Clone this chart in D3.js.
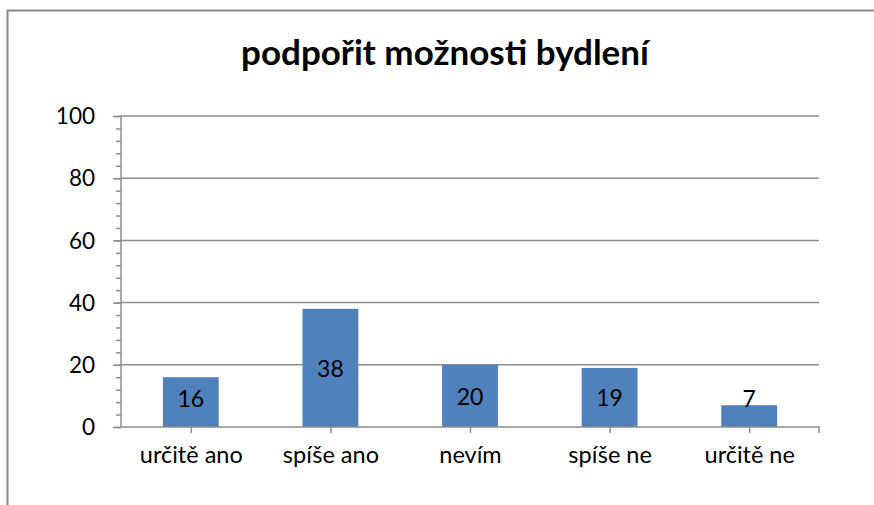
<!DOCTYPE html>
<html>
<head>
<meta charset="utf-8">
<script src="https://cdn.jsdelivr.net/npm/d3@7"></script>
<style>
  html, body { margin: 0; background: #fff; overflow: hidden; }
  svg { display: block; }
  text { font-family: Lato, "Open Sans", sans-serif; fill: #000; }
</style>
</head>
<body>
<div id="chart"></div>
<script>
// data
var categories = ["určitě ano", "spíše ano", "nevím", "spíše ne", "určitě ne"];
var values = [16, 38, 20, 19, 7];
var yTicks = [0, 20, 40, 60, 80, 100];
var chartTitle = "podpořit možnosti bydlení";

var svgWidth = 874;
var svgHeight = 505;

var margin = { top: 116, right: 55, bottom: 78, left: 121 };
var width = 819 - margin.left;
var height = 427 - margin.top;

var svg = d3.select("#chart")
    .append("svg")
    .attr("width", svgWidth)
    .attr("height", svgHeight);

// outer frame: only top and left edges are inside the picture
svg.append("path")
    .attr("d", `M7.5,${svgHeight}V10.5H${svgWidth}`)
    .attr("fill", "none")
    .attr("stroke", "#888")
    .attr("stroke-width", 2);

svg.append("text")
    .attr("x", 445)
    .attr("y", 65)
    .attr("text-anchor", "middle")
    .style("font-weight", "bold")
    .style("font-size", "35px")
    .text(chartTitle);

var chartGroup = svg.append("g")
    .attr("transform", `translate(${margin.left}, ${margin.top})`);

var xScale = d3.scaleBand()
    .domain(categories)
    .range([0, width])
    .paddingInner(0.6)
    .paddingOuter(0.3);

var xCenter = d3.scalePoint()
    .domain(categories)
    .range([0, width])
    .padding(0.5);

var yScale = d3.scaleLinear()
    .domain([0, 100])
    .range([height, 0]);

// gridlines
chartGroup.append("g")
    .selectAll("line")
    .data(yTicks.slice(1))
    .enter()
    .append("line")
    .attr("x1", 0)
    .attr("x2", width)
    .attr("y1", d => yScale(d))
    .attr("y2", d => yScale(d))
    .attr("stroke", "#8c8c8c")
    .attr("stroke-width", 1.5);

// minor ticks on y axis
chartGroup.append("g")
    .call(d3.axisLeft(yScale).tickValues(d3.range(0, 101, 4)).tickSize(5).tickFormat(""))
    .call(g => g.select(".domain").remove())
    .selectAll("line")
    .attr("stroke", "#8c8c8c")
    .attr("stroke-width", 1.5);

// major y axis
var leftAxis = d3.axisLeft(yScale).tickValues(yTicks).tickSize(8).tickPadding(18);
chartGroup.append("g")
    .call(leftAxis)
    .call(g => g.select(".domain").attr("stroke", "#8c8c8c").attr("stroke-width", 1.5).attr("d", `M0,${height}V0`))
    .call(g => g.selectAll(".tick line").attr("stroke", "#8c8c8c").attr("stroke-width", 1.5))
    .call(g => g.selectAll(".tick text")
        .attr("dy", "0.34em")
        .style("font-size", "22.5px")
        .style("font-family", "Lato, sans-serif"));

// bars
chartGroup.selectAll("rect.bar")
    .data(values)
    .enter()
    .append("rect")
    .attr("class", "bar")
    .attr("x", (d, i) => xScale(categories[i]))
    .attr("width", xScale.bandwidth())
    .attr("y", d => yScale(d))
    .attr("height", d => height - yScale(d))
    .attr("fill", "#4f81bd");

// value labels
chartGroup.selectAll("text.val")
    .data(values)
    .enter()
    .append("text")
    .attr("class", "val")
    .attr("x", (d, i) => xCenter(categories[i]))
    .attr("y", d => Math.min((yScale(d) + height) / 2 + 9, height - 20))
    .attr("text-anchor", "middle")
    .style("font-size", "23px")
    .text(d => d);

// x axis
var bottomAxis = d3.axisBottom(xCenter).tickSize(6).tickPadding(13);
chartGroup.append("g")
    .attr("transform", `translate(0, ${height})`)
    .call(bottomAxis)
    .call(g => g.select(".domain").attr("stroke", "#8c8c8c").attr("stroke-width", 1.5).attr("d", `M0,0H${width}V6`))
    .call(g => g.selectAll(".tick line").attr("stroke", "#8c8c8c").attr("stroke-width", 1.5))
    .call(g => g.selectAll(".tick text")
        .attr("dy", "0.71em")
        .style("font-size", "23.5px")
        .style("font-family", "Lato, sans-serif"));
</script>
</body>
</html>
